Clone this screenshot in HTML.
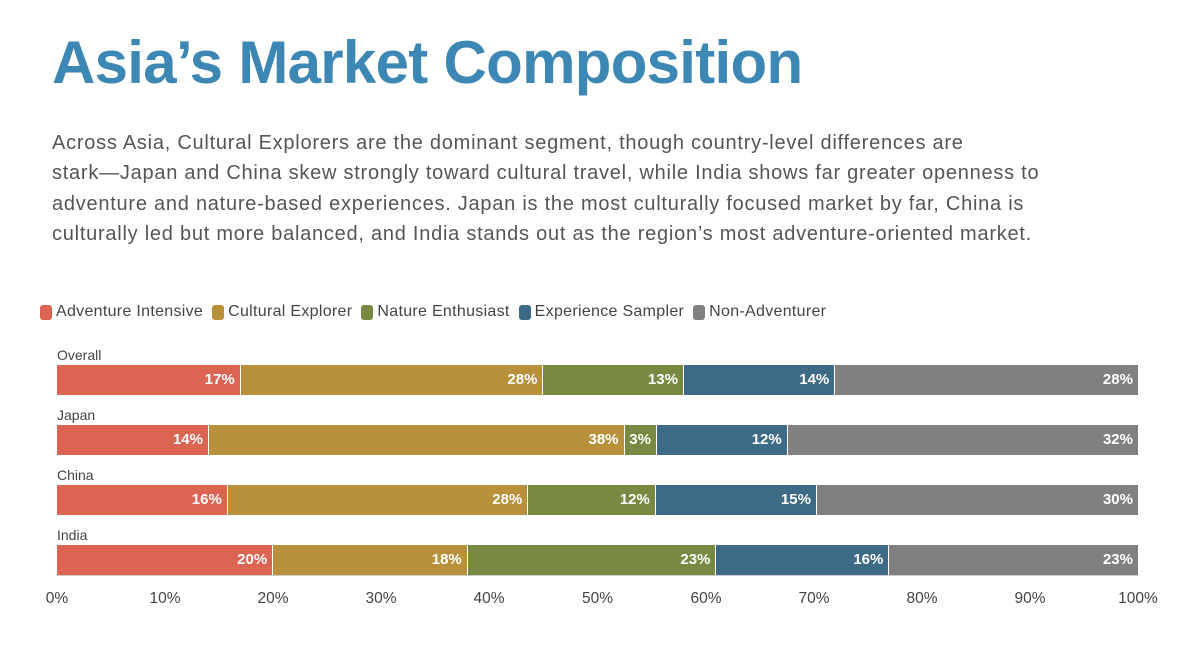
<!DOCTYPE html>
<html><head><style>
body{margin:0;width:1200px;height:669px;background:#fff;font-family:"Liberation Sans",sans-serif;position:relative;overflow:hidden}
.t{position:absolute;left:52px;top:28px;font-size:60px;font-weight:bold;color:#3d87b5;letter-spacing:-0.7px;white-space:nowrap}
.p{position:absolute;left:52px;top:128px;font-size:20px;letter-spacing:0.75px;line-height:30.3px;color:#555;white-space:nowrap}
.lg{position:absolute;top:303px;left:40px;font-size:16px;letter-spacing:0.3px;color:#444;display:flex;gap:9px;white-space:nowrap}
.lg span{display:flex;align-items:center}
.lg i{display:inline-block;width:12px;height:15px;border-radius:3px;margin-right:4px}
.row{position:absolute;left:57px;width:1081px;height:30px;display:flex}
.row div{height:100%;box-sizing:border-box;border-right:1px solid #fff;color:#fff;font-weight:bold;font-size:15px;text-align:right;padding-right:5px;line-height:30px}
.rl{position:absolute;left:57px;font-size:14px;color:#444}
.a{background:#dc6453}.c{background:#b8913a}.n{background:#788a41}.e{background:#3d6a85}.x{background:#808080}
.tk{position:absolute;top:590px;font-size:15.5px;color:#444;transform:translateX(-50%)}
.ax{position:absolute;left:57px;top:575px;width:1081px;height:1px;background:#ccc}
</style></head><body>
<div class="t">Asia’s Market Composition</div>
<div class="p">Across Asia, Cultural Explorers are the dominant segment, though country-level differences are<br>stark—Japan and China skew strongly toward cultural travel, while India shows far greater openness to<br>adventure and nature-based experiences. Japan is the most culturally focused market by far, China is<br>culturally led but more balanced, and India stands out as the region’s most adventure-oriented market.</div>
<div class="lg"><span><i class="a"></i>Adventure Intensive</span><span><i class="c"></i>Cultural Explorer</span><span><i class="n"></i>Nature Enthusiast</span><span><i class="e"></i>Experience Sampler</span><span><i class="x"></i>Non-Adventurer</span></div>

<div class="rl" style="top:347px">Overall</div>
<div class="row" style="top:365px"><div class="a" style="width:17%">17%</div><div class="c" style="width:28%">28%</div><div class="n" style="width:13%">13%</div><div class="e" style="width:14%">14%</div><div class="x" style="width:28%;border:none">28%</div></div>
<div class="rl" style="top:407px">Japan</div>
<div class="row" style="top:425px"><div class="a" style="width:14.06%">14%</div><div class="c" style="width:38.44%">38%</div><div class="n" style="width:3%">3%</div><div class="e" style="width:12.1%">12%</div><div class="x" style="width:32.4%;border:none">32%</div></div>
<div class="rl" style="top:467px">China</div>
<div class="row" style="top:485px"><div class="a" style="width:15.8%">16%</div><div class="c" style="width:27.8%">28%</div><div class="n" style="width:11.8%">12%</div><div class="e" style="width:14.9%">15%</div><div class="x" style="width:29.7%;border:none">30%</div></div>
<div class="rl" style="top:527px">India</div>
<div class="row" style="top:545px"><div class="a" style="width:20%">20%</div><div class="c" style="width:18%">18%</div><div class="n" style="width:23%">23%</div><div class="e" style="width:16%">16%</div><div class="x" style="width:23%;border:none">23%</div></div>
<div class="ax"></div>
<div class="tk" style="left:57px">0%</div><div class="tk" style="left:165px">10%</div><div class="tk" style="left:273px">20%</div><div class="tk" style="left:381px">30%</div><div class="tk" style="left:489px">40%</div><div class="tk" style="left:597.5px">50%</div><div class="tk" style="left:706px">60%</div><div class="tk" style="left:814px">70%</div><div class="tk" style="left:922px">80%</div><div class="tk" style="left:1030px">90%</div><div class="tk" style="left:1138px">100%</div>
</body></html>
